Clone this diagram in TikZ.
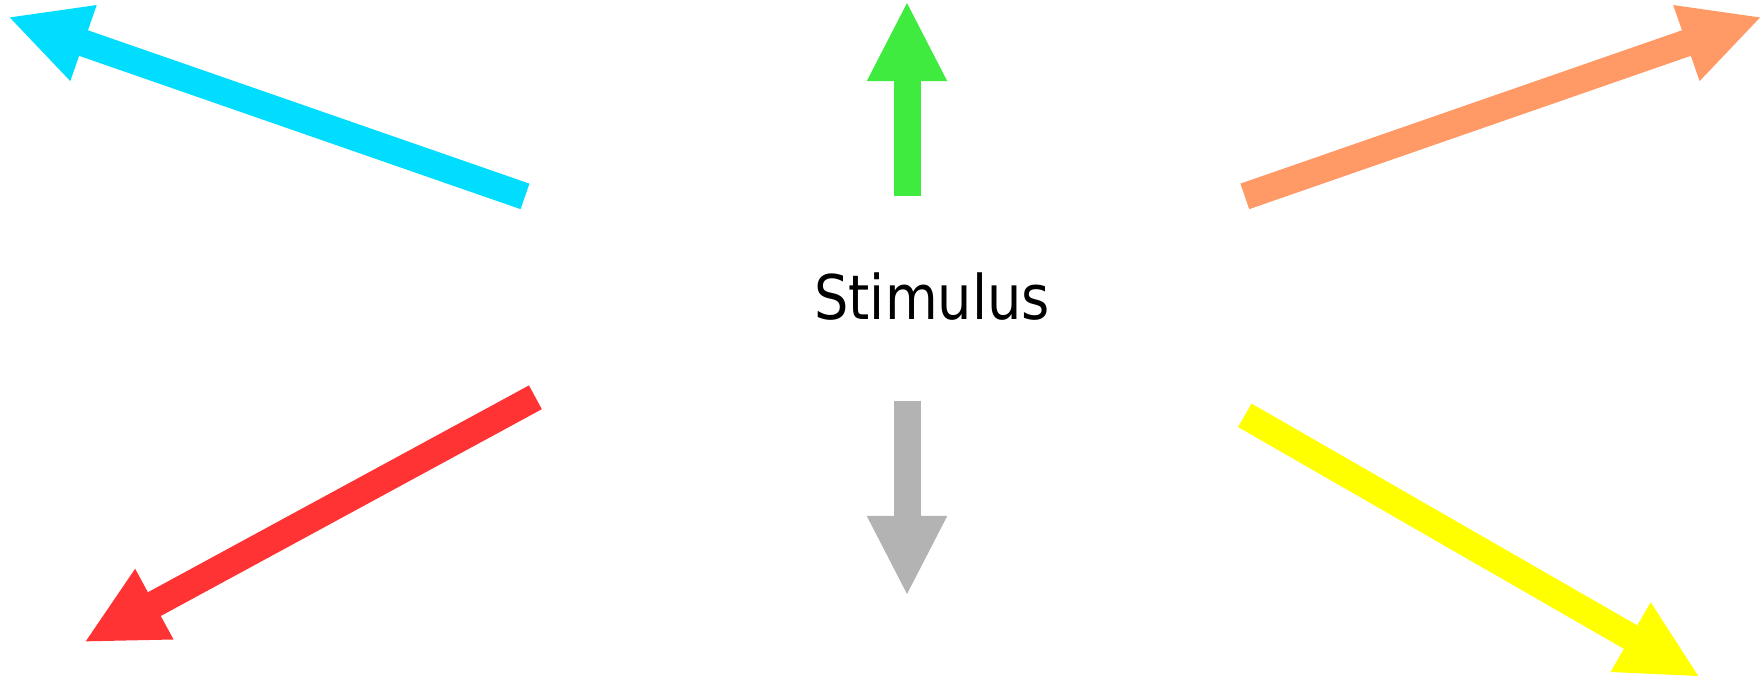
\documentclass[tikz,border=0pt]{standalone}
\usepackage{fontspec}
\setmainfont[FakeStretch=0.88]{DejaVu Sans}
\usetikzlibrary{arrows.meta}

\definecolor{skyarrow}{RGB}{0,221,255}
\definecolor{greenarrow}{RGB}{64,235,64}
\definecolor{peacharrow}{RGB}{255,153,102}
\definecolor{redarrow}{RGB}{255,51,51}
\definecolor{yellowarrow}{RGB}{255,255,0}
\definecolor{greyarrow}{RGB}{179,179,179}

\tikzset{pointer/.style={line width=0.27cm, -{Triangle[length=0.8cm, width=0.74cm]}}}

\begin{document}
\begin{tikzpicture}[x=0.01cm, y=-0.01cm]
  \useasboundingbox (0,0) rectangle (1760,679);
  \node[inner sep=0, anchor=base, font=\fontsize{17.5}{21}\selectfont] (stim) at (932,320) {Stimulus};
  % tails round the label
  \coordinate (skyS) at (525,196.4);
  \coordinate (greenS) at (907,196.4);
  \coordinate (peachS) at (1244.8,196.4);
  \coordinate (redS) at (535.4,397.3);
  \coordinate (greyS) at (907,400.7);
  \coordinate (yellowS) at (1244.8,415.3);
  % tips
  \coordinate (skyT) at (7.9,16.8);
  \coordinate (greenT) at (907,1.1);
  \coordinate (peachT) at (1762,16.8);
  \coordinate (redT) at (84,642.3);
  \coordinate (greyT) at (907,596);
  \coordinate (yellowT) at (1700,677);
  \draw[pointer, skyarrow] (skyS) -- (skyT);
  \draw[pointer, greenarrow] (greenS) -- (greenT);
  \draw[pointer, peacharrow] (peachS) -- (peachT);
  \draw[pointer, redarrow] (redS) -- (redT);
  \draw[pointer, greyarrow] (greyS) -- (greyT);
  \draw[pointer, yellowarrow] (yellowS) -- (yellowT);
\end{tikzpicture}
\end{document}
